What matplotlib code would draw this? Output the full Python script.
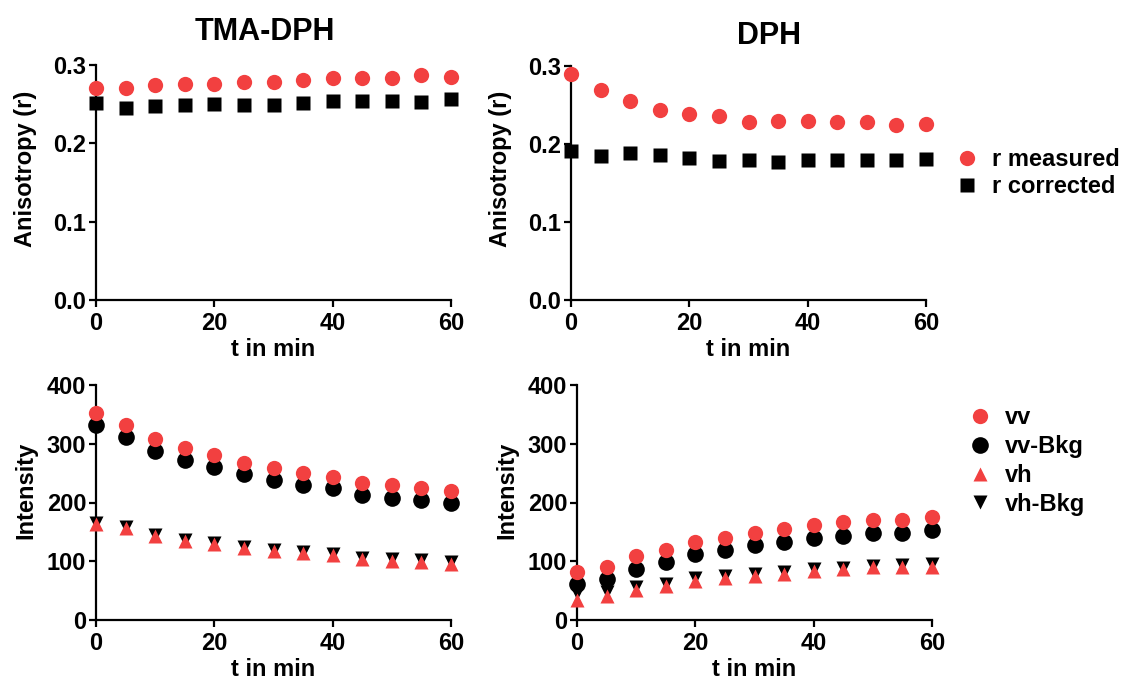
import numpy as np
import matplotlib
matplotlib.use('Agg')
import matplotlib.pyplot as plt
from matplotlib.ticker import FormatStrFormatter

plt.rcParams['font.family'] = ['Liberation Sans', 'DejaVu Sans']
plt.rcParams['font.weight'] = 'bold'

RED = '#f24040'
FS = 17

# ── Data ─────────────────────────────────────────────────────
t = [0, 5, 10, 15, 20, 25, 30, 35, 40, 45, 50, 55, 60]

tma_r_meas = [0.270, 0.270, 0.275, 0.276, 0.276, 0.278, 0.278, 0.281, 0.283, 0.283, 0.283, 0.287, 0.285]
tma_r_corr = [0.252, 0.245, 0.248, 0.249, 0.250, 0.249, 0.249, 0.251, 0.254, 0.254, 0.254, 0.253, 0.256]
dph_r_meas = [0.290, 0.269, 0.255, 0.244, 0.238, 0.236, 0.228, 0.230, 0.229, 0.228, 0.228, 0.225, 0.226]
dph_r_corr = [0.191, 0.184, 0.188, 0.186, 0.182, 0.178, 0.180, 0.177, 0.180, 0.180, 0.179, 0.179, 0.181]

tma_vv     = [353, 332, 308, 293, 281, 268, 259, 250, 244, 233, 229, 225, 220]
tma_vv_bkg = [332, 311, 288, 272, 260, 248, 238, 229, 224, 213, 208, 204, 200]
tma_vh     = [163, 156, 143, 135, 129, 122, 117, 114, 111, 103, 101, 99, 95]
tma_vh_bkg = [165, 158, 145, 137, 131, 124, 119, 116, 113, 106, 104, 102, 99]

dph_vv     = [82, 91, 109, 119, 133, 140, 148, 155, 162, 166, 170, 171, 176]
dph_vv_bkg = [61, 69, 87, 98, 112, 119, 127, 132, 139, 143, 148, 148, 153]
dph_vh     = [34, 41, 51, 58, 67, 71, 75, 78, 83, 86, 90, 91, 91]
dph_vh_bkg = [46, 47, 56, 62, 71, 75, 79, 82, 87, 89, 92, 93, 95]

titles = ['TMA-DPH', 'DPH']

# ── Figure ───────────────────────────────────────────────────
W, H = 1129, 681
fig = plt.figure(figsize=(W / 100, H / 100), dpi=100)

def px_axes(x0, x1, y0, y1):
    return fig.add_axes([x0 / W, 1 - y1 / H, (x1 - x0) / W, (y1 - y0) / H])

ax_tl = px_axes(96, 451, 65, 300)
ax_tr = px_axes(571, 926, 66, 300)
ax_bl = px_axes(96, 451, 385, 620)
ax_br = px_axes(577, 932, 385, 620)

def style(ax, ylim, yticks, ylabel, ylab_y):
    ax.set_xlim(0, 60)
    ax.set_ylim(*ylim)
    ax.set_xticks([0, 20, 40, 60])
    ax.set_yticks(yticks)
    for s in ['top', 'right']:
        ax.spines[s].set_visible(False)
    for s in ['left', 'bottom']:
        ax.spines[s].set_linewidth(1.6)
    ax.tick_params(width=1.6, length=5, labelsize=FS)
    ax.tick_params(axis='y', pad=2)
    ax.tick_params(axis='x', pad=4)
    ax.set_xlabel('t in min', fontsize=FS, fontweight='bold', labelpad=2)
    ax.set_ylabel(ylabel, fontsize=FS, fontweight='bold')
    ax.yaxis.set_label_coords(-0.165, ylab_y)

# anisotropy panels
for ax, rm, rc in [(ax_tl, tma_r_meas, tma_r_corr),
                   (ax_tr, dph_r_meas, dph_r_corr)]:
    ax.plot(t, rm, 'o', color=RED, ms=11, mec='none', clip_on=False, zorder=3,
            label='r measured')
    ax.plot(t, rc, 's', color='black', ms=10, mec='none', clip_on=False, zorder=3,
            label='r corrected')
    style(ax, (0, 0.3), [0.0, 0.1, 0.2, 0.3], 'Anisotropy (r)', 0.56)
    ax.yaxis.set_major_formatter(FormatStrFormatter('%.1f'))

fig.text(265 / W, 1 - 32 / H, titles[0], fontsize=22, fontweight='bold',
         ha='center', va='center')
fig.text(769 / W, 1 - 36 / H, titles[1], fontsize=22, fontweight='bold',
         ha='center', va='center')

# intensity panels
for ax, vv, vvb, vh, vhb in [(ax_bl, tma_vv, tma_vv_bkg, tma_vh, tma_vh_bkg),
                             (ax_br, dph_vv, dph_vv_bkg, dph_vh, dph_vh_bkg)]:
    ax.plot(t, vvb, 'o', color='black', ms=12, mec='none', clip_on=False, zorder=3,
            label='vv-Bkg')
    ax.plot(t, vv, 'o', color=RED, ms=11, mec='none', clip_on=False, zorder=4,
            label='vv')
    ax.plot(t, vhb, 'v', color='black', ms=10, mec='none', clip_on=False, zorder=3,
            label='vh-Bkg')
    ax.plot(t, vh, '^', color=RED, ms=10, mec='none', clip_on=False, zorder=4,
            label='vh')
    style(ax, (0, 400), [0, 100, 200, 300, 400], 'Intensity', 0.55)

# legends
h, l = ax_tr.get_legend_handles_labels()
fig.legend(h, l, loc='upper left', bbox_to_anchor=(953 / W, 1 - 148 / H),
           frameon=False, handletextpad=0.45, labelspacing=0.18,
           handlelength=1.2, borderpad=0, borderaxespad=0,
           prop={'weight': 'bold', 'size': FS})

h, l = ax_br.get_legend_handles_labels()
order = [1, 0, 3, 2]
fig.legend([h[i] for i in order], [l[i] for i in order], loc='upper left',
           bbox_to_anchor=(966 / W, 1 - 406 / H), frameon=False,
           handletextpad=0.45, labelspacing=0.25, handlelength=1.2,
           borderpad=0, borderaxespad=0, prop={'weight': 'bold', 'size': FS})

fig.savefig('out.png', dpi=100)
